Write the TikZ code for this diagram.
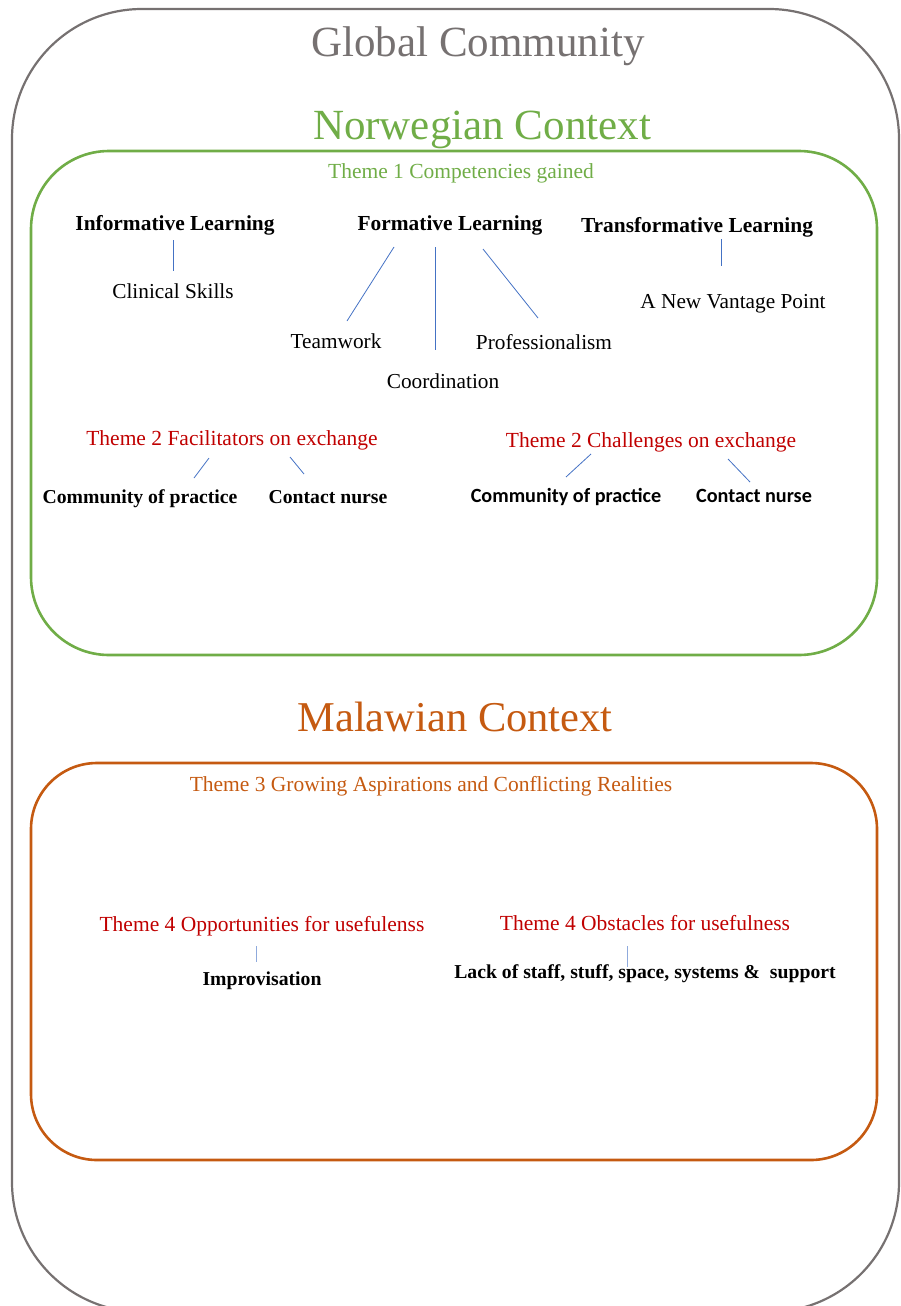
\documentclass[tikz,border=0pt]{standalone}
\usepackage{fontspec}
\setmainfont{Liberation Serif}
\newfontfamily\calibri{Carlito}
\definecolor{gtext}{HTML}{767171}
\definecolor{ggreen}{HTML}{70AD47}
\definecolor{gorange}{HTML}{C55A11}
\definecolor{gred}{HTML}{C00000}
\definecolor{gblue}{HTML}{4472C4}
\tikzset{
  lbl/.style={anchor=base, inner sep=0pt, outer sep=0pt},
  big/.style={lbl, font=\fontsize{43}{50}\selectfont},
  theme/.style={lbl, font=\fontsize{21.5}{25}\selectfont},
  head/.style={lbl, font=\fontsize{21.4}{25}\selectfont\bfseries},
  item/.style={lbl, font=\fontsize{21.3}{25}\selectfont},
  bitem/.style={lbl, font=\fontsize{19.7}{23}\selectfont\bfseries},
  sitem/.style={lbl, font=\fontsize{20.2}{24}\selectfont\calibri\bfseries},
  conn/.style={draw=gblue, line width=0.8pt},
}
\begin{document}
\begin{tikzpicture}[x=1pt,y=-1pt]
\useasboundingbox (0,0) rectangle (901,1306);
\clip (0,0) rectangle (901,1306);
% outer global box
\draw[gtext, line width=2.2pt, rounded corners=130pt] (12,9) rectangle (899,1312);
% green and orange boxes
\draw[ggreen, line width=2.6pt, rounded corners=78pt] (31,151) rectangle (877,655);
\draw[gorange, line width=2.6pt, rounded corners=66pt] (31,763) rectangle (877,1160);

% titles
\node[big, text=gtext] (global) at (478,57) {Global Community};
\node[big, text=ggreen] (norw) at (482,139) {Norwegian Context};
\node[big, text=gorange, font=\fontsize{42.5}{50}\selectfont] (malawi) at (455,731) {Malawian Context};

% theme 1
\node[theme, text=ggreen] (t1) at (461,178) {Theme 1 Competencies gained};
\node[head] (inf) at (175,230) {Informative Learning};
\node[head] (form) at (450,230) {Formative Learning};
\node[head] (trans) at (697,232) {Transformative Learning};
\node[item] (clin) at (173,298) {Clinical Skills};
\node[item] (team) at (336,348) {Teamwork};
\node[item] (coord) at (443,388) {Coordination};
\node[item] (prof) at (544,349) {Professionalism};
\node[item] (vant) at (733,308) {A New Vantage Point};

\coordinate (a1) at (173,240); \coordinate (a2) at (173,271);
\coordinate (b1) at (394,247); \coordinate (b2) at (347,321);
\coordinate (c1) at (435,247); \coordinate (c2) at (435,350);
\coordinate (d1) at (483,249); \coordinate (d2) at (538,318);
\coordinate (e1) at (721,239); \coordinate (e2) at (721,266);
\draw[conn] (a1) -- (a2);
\draw[conn] (b1) -- (b2);
\draw[conn] (c1) -- (c2);
\draw[conn] (d1) -- (d2);
\draw[conn] (e1) -- (e2);

% theme 2
\node[theme, text=gred] (fac) at (232,445) {Theme 2 Facilitators on exchange};
\node[bitem] (cop1) at (140,503) {Community of practice};
\node[bitem] (cn1) at (328,503) {Contact nurse};
\node[theme, text=gred] (chal) at (651,447) {Theme 2 Challenges on exchange};
\node[sitem] (cop2) at (566,502) {Community of practice};
\node[sitem] (cn2) at (754,502) {Contact nurse};

\coordinate (f1) at (209,458); \coordinate (f2) at (194,478);
\coordinate (g1) at (290,457); \coordinate (g2) at (304,474);
\coordinate (h1) at (591,454); \coordinate (h2) at (566,477);
\coordinate (i1) at (728,459); \coordinate (i2) at (750,482);
\draw[conn] (f1) -- (f2);
\draw[conn] (g1) -- (g2);
\draw[conn] (h1) -- (h2);
\draw[conn] (i1) -- (i2);

% theme 3 and 4
\node[theme, text=gorange] (t3) at (431,791) {Theme 3 Growing Aspirations and Conflicting Realities};
\node[theme, text=gred] (opp) at (262,931) {Theme 4 Opportunities for usefulenss};
\node[bitem] (impr) at (262,985) {Improvisation};
\node[theme, text=gred] (obs) at (645,930) {Theme 4 Obstacles for usefulness};
\node[bitem] (lack) at (645,978) {Lack of staff, stuff, space, systems \&\ \ support};

\coordinate (j1) at (256,946); \coordinate (j2) at (256,962);
\coordinate (k1) at (627,946); \coordinate (k2) at (627,967);
\draw[conn, draw=gblue!60] (j1) -- (j2);
\draw[conn, draw=gblue!60] (k1) -- (k2);
\end{tikzpicture}
\end{document}
